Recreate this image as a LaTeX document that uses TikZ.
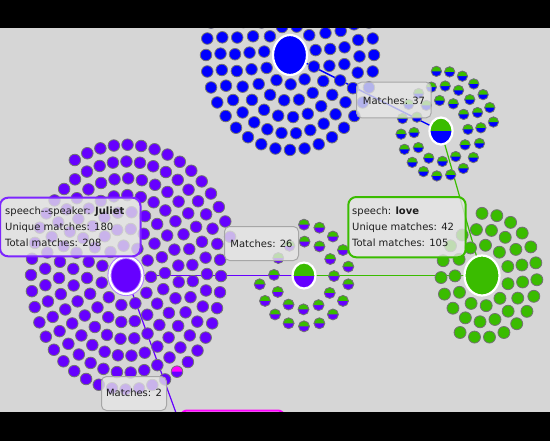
\documentclass[tikz,border=0pt]{standalone}
\usepackage{fontspec}
\newfontfamily\lblfont{DejaVu Sans}
\usetikzlibrary{shapes.geometric}
\pgfdeclarelayer{back}
\pgfdeclarelayer{edges}
\pgfsetlayers{back,edges,main}
\definecolor{bggray}{RGB}{214,214,214}
\definecolor{jpur}{RGB}{102,0,255}
\definecolor{bblu}{RGB}{0,0,255}
\definecolor{lgrn}{RGB}{58,188,0}
\definecolor{magn}{RGB}{255,0,255}
\definecolor{boxfill}{RGB}{230,230,230}
\definecolor{txt}{RGB}{30,30,30}
\newcount\dotcnt
\def\ys{1.13}
\def\tgx{-500}\def\tgy{-500}
\def\specialdot{}
\tikzset{
  dotedge/.style={draw=black!55, line width=0.8},
  hub/.style={ellipse, draw=white, line width=2.2, inner sep=0, outer sep=0},
  conn/.style={line width=1.4},
  mbox/.style={rectangle, draw=black!35, line width=1, rounded corners=5, fill=boxfill, fill opacity=0.78, inner sep=0, outer sep=0, anchor=north west},
  ibox/.style={rectangle, line width=2, rounded corners=8, fill=boxfill, fill opacity=0.78, inner sep=0, outer sep=0, anchor=north west},
  lbl/.style={font=\lblfont\fontsize{10}{12}\selectfont, text=txt, inner sep=0},
  halfgreen/.style={path picture={\fill[lgrn] (path picture bounding box.north west) rectangle (path picture bounding box.east);}}
}
\newcommand\soliddot[4]{\draw[dotedge, fill=#2] ({#3},{#4}) circle[radius=#1];}
\newcommand\halfdot[5]{%
  \fill[#3] ({#4},{#5}) circle[radius=#1];
  \fill[#2] ({#4-#1},{#5}) arc[start angle=180,end angle=360,radius=#1] -- cycle;
  \draw[dotedge] ({#4},{#5}) circle[radius=#1];}
% #1 cx #2 cy #3 r0 #4 ring step #5 arc step #6 N #7 start angle #8 rings #9 dot command
\newcommand\ringdots[9]{%
  \global\dotcnt=0
  \foreach \k in {1,...,#8}{%
    \pgfmathsetmacro\rr{#3+(\k-1)*#4}%
    \pgfmathtruncatemacro\nn{floor(2*pi*\rr/#5)}%
    \pgfmathtruncatemacro\nm{\nn-1}%
    \pgfmathsetmacro\off{(#8-\k)*29}%
    \foreach \j in {0,...,\nm}{%
      \global\advance\dotcnt by 1
      \ifnum\dotcnt>#6\relax\else
        \pgfmathsetmacro\aa{#7+\off-\j*360/\nn}%
        \pgfmathsetmacro\px{#1+\rr*cos(\aa)}%
        \pgfmathsetmacro\py{#2-\ys*\rr*sin(\aa)}%
        \pgfmathtruncatemacro\hit{((abs(\px-\tgx)<7) && (abs(\py-\tgy)<7)) ? 1 : 0}%
        \ifnum\hit=1\relax \specialdot{\px}{\py}\else #9{\px}{\py}\fi
      \fi
    }%
  }%
}
\begin{document}
\begin{tikzpicture}[x=1pt,y=-1pt]
\useasboundingbox (0,0) rectangle (550,440);
\begin{pgfonlayer}{back}
  \fill[bggray] (0,0) rectangle (550,440);
\end{pgfonlayer}

% hubs
\node[hub, fill=jpur, draw=jpur!55!white, double=white, double distance=2.2, line width=0.9, minimum width=33, minimum height=37] (jul) at (126,275.5) {};
\node[hub, fill=bblu, minimum width=34, minimum height=40] (blu) at (290,55) {};
\node[hub, fill=bblu, halfgreen, minimum width=23, minimum height=27] (bg) at (441,131) {};
\node[hub, fill=jpur, halfgreen, minimum width=23, minimum height=26] (mid) at (304,275.5) {};
\node[hub, fill=lgrn, minimum width=35, minimum height=40] (love) at (482,275.5) {};
\coordinate (magc) at (199,476);

% connectors
\begin{pgfonlayer}{edges}
  \draw[conn, draw=jpur] (jul.center) -- (mid.center);
  \draw[conn, draw=lgrn] (mid.center) -- (love.center);
  \draw[conn, draw=bblu] (blu.center) -- (bg.center);
  \draw[conn, draw=lgrn, line width=1.2] (bg.center) -- (love.center);
  \draw[conn, draw=jpur, line width=1.2] (jul.center) -- (magc);
\end{pgfonlayer}

% dot clusters
\def\ys{1.2}\def\tgx{177}\def\tgy{372}\def\specialdot{\halfdot{5.8}{magn}{jpur}}
\ringdots{126}{275.5}{25}{14}{13.5}{180}{118}{7}{\soliddot{5.8}{jpur}}
\def\ys{1.13}\def\tgx{-500}\def\tgy{-500}
\ringdots{290}{55}{26}{14.5}{14.5}{117}{90}{5}{\soliddot{5.8}{bblu}}
\ringdots{441}{131}{27}{13}{13.3}{37}{95}{3}{\halfdot{5.2}{lgrn}{bblu}}
\ringdots{304}{275.5}{30}{15}{15.7}{26}{90}{2}{\halfdot{5.5}{lgrn}{jpur}}
\ringdots{482}{275.5}{27}{14}{14.5}{42}{90}{3}{\soliddot{6}{lgrn}}

% bottom magenta box (cut off)
\node[rectangle, draw=magn, line width=2, rounded corners=6, minimum width=103, minimum height=18, anchor=north west, inner sep=0, outer sep=0] (magbox) at (181,410.5) {};

% label boxes
\node[mbox, minimum width=74.7, minimum height=35.6] (m37) at (356.5,82.2) {};
\node[mbox, minimum width=74, minimum height=34] (m26) at (224.5,226.5) {};
\node[mbox, minimum width=65, minimum height=34] (m2) at (101.5,376.5) {};
\node[ibox, draw=jpur!85!white, minimum width=140.5, minimum height=58.6] (julbox) at (0,197.7) {};
\node[ibox, draw=lgrn, minimum width=117.4, minimum height=60.3] (lovebox) at (348.3,197) {};

\node[lbl, anchor=base] (t37) at (394,104) {Matches: 37};
\node[lbl, anchor=base] (t26) at (261.5,247) {Matches: 26};
\node[lbl, anchor=base] (t2) at (134,396.5) {Matches: 2};

\node[lbl, anchor=base west] (jl1) at (5,214) {speech\mbox{-}\mbox{-}speaker: \textbf{Juliet}};
\node[lbl, anchor=base west] (jl2) at (5,230) {Unique matches: 180};
\node[lbl, anchor=base west] (jl3) at (5,246) {Total matches: 208};
\node[lbl, anchor=base west] (ll1) at (352,214) {speech: \textbf{love}};
\node[lbl, anchor=base west] (ll2) at (352,230) {Unique matches: 42};
\node[lbl, anchor=base west] (ll3) at (352,246) {Total matches: 105};

% black bands
\fill[black] (0,-5) rectangle (550,28);
\fill[black] (0,411.5) rectangle (550,445);
\end{tikzpicture}
\end{document}
